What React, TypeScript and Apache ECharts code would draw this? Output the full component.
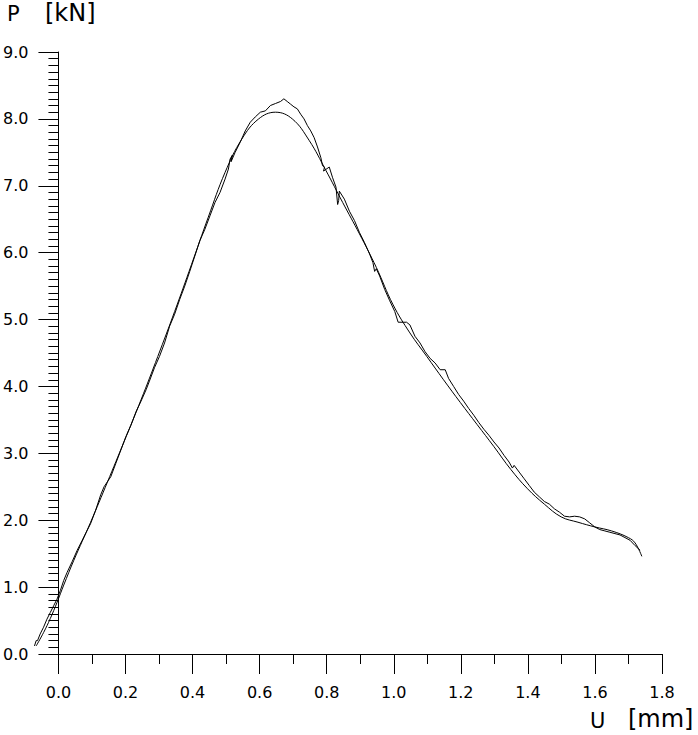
import React, { useEffect, useRef } from "react";
import * as echarts from "echarts";

// Fitted (smooth) curve: U [mm], P [kN]
const fitU = [-0.062, -0.04, -0.02, 0.0, 0.02, 0.05, 0.1, 0.15, 0.2, 0.25, 0.3, 0.35, 0.4, 0.45, 0.5, 0.55, 0.6, 0.65, 0.7, 0.75, 0.8, 0.85, 0.9, 0.95, 1.0, 1.05, 1.1, 1.15, 1.2, 1.25, 1.3, 1.35, 1.4, 1.45, 1.5, 1.55, 1.6, 1.65, 1.7, 1.72, 1.74];
const fitP = [0.12, 0.32, 0.53, 0.77, 1.03, 1.4, 1.97, 2.57, 3.18, 3.8, 4.45, 5.12, 5.82, 6.53, 7.2, 7.7, 8.0, 8.1, 8.0, 7.68, 7.23, 6.75, 6.28, 5.78, 5.22, 4.8, 4.45, 4.1, 3.76, 3.43, 3.1, 2.76, 2.47, 2.24, 2.05, 1.97, 1.9, 1.84, 1.74, 1.66, 1.46];

// Measured (noisy) curve
const measU = [-0.067, -0.062, -0.058, -0.05, -0.04, -0.03, -0.02, -0.01, 0.0, 0.01, 0.02, 0.03, 0.045, 0.06, 0.075, 0.09, 0.1, 0.115, 0.13, 0.14, 0.16, 0.175, 0.19, 0.205, 0.22, 0.235, 0.25, 0.265, 0.275, 0.29, 0.305, 0.32, 0.335, 0.35, 0.365, 0.38, 0.395, 0.41, 0.425, 0.44, 0.455, 0.47, 0.485, 0.5, 0.51, 0.515, 0.522, 0.518, 0.53, 0.545, 0.56, 0.575, 0.59, 0.605, 0.62, 0.635, 0.65, 0.665, 0.675, 0.685, 0.695, 0.705, 0.715, 0.725, 0.735, 0.745, 0.755, 0.765, 0.775, 0.785, 0.79, 0.796, 0.793, 0.81, 0.82, 0.83, 0.835, 0.838, 0.84, 0.855, 0.87, 0.885, 0.9, 0.915, 0.93, 0.94, 0.945, 0.95, 0.96, 0.975, 0.99, 1.005, 1.015, 1.04, 1.05, 1.065, 1.08, 1.095, 1.11, 1.125, 1.14, 1.155, 1.165, 1.18, 1.195, 1.21, 1.225, 1.24, 1.255, 1.27, 1.285, 1.3, 1.315, 1.33, 1.345, 1.355, 1.36, 1.375, 1.39, 1.405, 1.42, 1.435, 1.45, 1.465, 1.48, 1.495, 1.51, 1.525, 1.54, 1.555, 1.57, 1.585, 1.6, 1.615, 1.63, 1.645, 1.66, 1.675, 1.69, 1.705, 1.72, 1.735];
const measP = [0.12, 0.2, 0.2, 0.3, 0.4, 0.52, 0.62, 0.72, 0.82, 0.95, 1.1, 1.22, 1.38, 1.55, 1.7, 1.85, 1.95, 2.15, 2.38, 2.5, 2.65, 2.85, 3.05, 3.25, 3.42, 3.62, 3.78, 3.95, 4.08, 4.28, 4.45, 4.65, 4.9, 5.08, 5.3, 5.5, 5.72, 5.95, 6.18, 6.35, 6.55, 6.75, 6.9, 7.1, 7.25, 7.4, 7.46, 7.36, 7.5, 7.65, 7.82, 7.95, 8.03, 8.1, 8.12, 8.2, 8.23, 8.26, 8.3, 8.26, 8.22, 8.18, 8.15, 8.07, 8.0, 7.9, 7.82, 7.72, 7.58, 7.42, 7.3, 7.28, 7.22, 7.28, 7.12, 6.98, 6.72, 6.78, 6.92, 6.8, 6.62, 6.48, 6.3, 6.15, 5.98, 5.85, 5.72, 5.76, 5.65, 5.45, 5.28, 5.12, 4.96, 4.96, 4.92, 4.75, 4.65, 4.52, 4.42, 4.35, 4.25, 4.25, 4.12, 4.0, 3.88, 3.78, 3.67, 3.57, 3.46, 3.36, 3.27, 3.17, 3.08, 2.97, 2.87, 2.78, 2.82, 2.72, 2.62, 2.52, 2.42, 2.35, 2.28, 2.24, 2.17, 2.12, 2.06, 2.05, 2.06, 2.05, 2.02, 1.96, 1.9, 1.86, 1.84, 1.82, 1.8, 1.78, 1.74, 1.7, 1.62, 1.55];

const yTitle = ["P", "[kN]"];
const xTitle = ["U", "[mm]"];

// plot geometry (pixels)
const AX_LEFT = 57;
const AX_RIGHT = 36;
const AX_TOP = 52;
const AX_BOTTOM = 81;
const DATA_XMIN = -0.07;

export default function App() {
  const ref = useRef<HTMLDivElement>(null);
  useEffect(() => {
    if (!ref.current) return;
    const chart = echarts.init(ref.current, null, { renderer: "svg" });
    const font = "DejaVu Sans";
    const plotW = 698 - AX_LEFT - AX_RIGHT;
    const pxPerUnit = plotW / 1.8;
    const dataLeft = AX_LEFT + DATA_XMIN * pxPerUnit;
    const axisCommon = {
      axisLine: { show: true, onZero: false, lineStyle: { color: "#000", width: 1 } },
      axisTick: { show: true, inside: false, length: 20, lineStyle: { color: "#000", width: 1 } },
      splitLine: { show: false },
      minorSplitLine: { show: false },
      axisLabel: { color: "#000", fontSize: 16, fontFamily: font, margin: 30, formatter: (v: number) => v.toFixed(1) },
    };
    const minor = { show: true, length: 10, lineStyle: { color: "#000", width: 1 } };
    chart.setOption({
      animation: false,
      backgroundColor: "#fff",
      grid: [
        { left: AX_LEFT, right: AX_RIGHT, top: AX_TOP, bottom: AX_BOTTOM, containLabel: false },
        { left: dataLeft, right: AX_RIGHT, top: AX_TOP, bottom: AX_BOTTOM, containLabel: false },
      ],
      xAxis: [
        {
          gridIndex: 0,
          type: "value",
          min: 0,
          max: 1.8,
          interval: 0.2,
          ...axisCommon,
          minorTick: { ...minor, splitNumber: 2 },
        },
        { gridIndex: 1, type: "value", min: DATA_XMIN, max: 1.8, show: false },
      ],
      yAxis: [
        {
          gridIndex: 0,
          type: "value",
          min: 0,
          max: 9,
          interval: 1,
          ...axisCommon,
          minorTick: { ...minor, splitNumber: 10 },
        },
        { gridIndex: 1, type: "value", min: 0, max: 9, show: false },
      ],
      graphic: [
        { type: "text", left: 7, top: 3, style: { text: yTitle[0], fontSize: 21, fontFamily: font, fill: "#000" } },
        { type: "text", left: 45, top: 1, style: { text: yTitle[1], fontSize: 24, fontFamily: font, fill: "#000" } },
        { type: "text", left: 590, top: 710, style: { text: xTitle[0], fontSize: 21, fontFamily: font, fill: "#000" } },
        { type: "text", left: 628, top: 707, style: { text: xTitle[1], fontSize: 24, fontFamily: font, fill: "#000" } },
      ],
      series: [
        {
          type: "line",
          xAxisIndex: 1,
          yAxisIndex: 1,
          data: fitU.map((u, i) => [u, fitP[i]]),
          smooth: 0.4,
          showSymbol: false,
          clip: false,
          lineStyle: { color: "#000", width: 1 },
        },
        {
          type: "line",
          xAxisIndex: 1,
          yAxisIndex: 1,
          data: measU.map((u, i) => [u, measP[i]]),
          smooth: false,
          showSymbol: false,
          clip: false,
          lineStyle: { color: "#000", width: 1 },
        },
      ],
    });
    return () => chart.dispose();
  }, []);
  return <div ref={ref} style={{ width: 698, height: 735, position: "absolute", left: 0, top: 0 }} />;
}
